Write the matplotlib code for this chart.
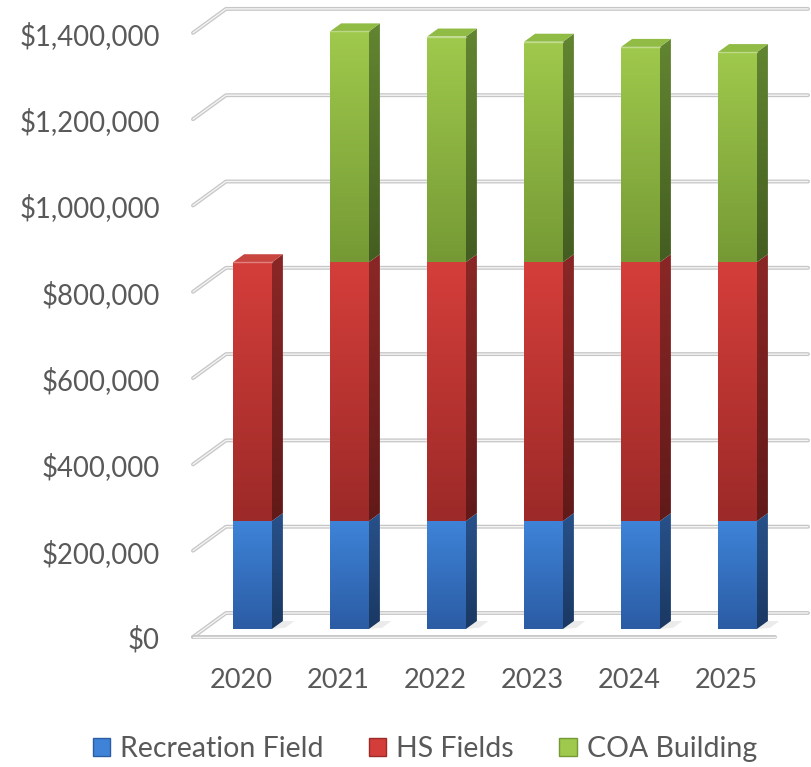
import numpy as np
import matplotlib
matplotlib.use("Agg")
import matplotlib.pyplot as plt
from matplotlib.patches import Polygon, Patch
from matplotlib.colors import LinearSegmentedColormap

years = ["2020", "2021", "2022", "2023", "2024", "2025"]
recreation = [250000, 250000, 250000, 250000, 250000, 250000]
hs_fields = [600000, 600000, 600000, 600000, 600000, 600000]
coa_building = [0, 535000, 523000, 511000, 499000, 487000]
series_names = ["Recreation Field", "HS Fields", "COA Building"]
y_ticks = np.arange(0, 1400001, 200000)

# face colours per series: front (top->bottom), side (top->bottom), top
front_top = ["#3e83d8", "#d43e3a", "#9fc94c"]
front_bot = ["#2b5ca4", "#9c2a28", "#759a35"]
side_top = ["#28518a", "#8a2726", "#628531"]
side_bot = ["#1a3862", "#611a19", "#445d21"]
top_face = ["#5b96de", "#c94540", "#90bb44"]
text_color = "#595959"

plt.rcParams["font.family"] = ["Lato", "DejaVu Sans"]

# pixel scale of the layout
px_cat = 97.0
px_dollar = 86.3 / 200000
DX = 33 / px_cat            # full floor depth, horizontal (categories)
DY = 24 / px_dollar         # full floor depth, vertical (dollars)
bar_w = 0.40


def P(x, v, d):
    # oblique projection: d=0 is the bar front plane, d>0 goes back
    return (x + d * DX, v + d * DY)


def gradient_fill(ax, verts, c_top, c_bot, z):
    poly = Polygon(verts, closed=True, facecolor="none", edgecolor="none", zorder=z)
    ax.add_patch(poly)
    xs = [p[0] for p in verts]
    ys = [p[1] for p in verts]
    cmap = LinearSegmentedColormap.from_list("g", [c_bot, c_top])
    im = ax.imshow(np.linspace(0, 1, 64).reshape(-1, 1), cmap=cmap,
                   extent=(min(xs), max(xs), min(ys), max(ys)), origin="lower",
                   aspect="auto", interpolation="bilinear", zorder=z)
    im.set_clip_path(poly)


fig = plt.figure(figsize=(8.11, 7.67), dpi=100)
ax = fig.add_axes([0, 0, 1, 1])
ax.axis("off")

n = len(years)
x0, x1 = -0.5, n - 0.5

# walls: left diagonal + back gridline for each tick
for v in y_ticks:
    pts = [P(x0, v, -1 / 3), P(x0, v, 2 / 3), P(x1, v, 2 / 3)]
    xs, ys = zip(*pts)
    ax.plot(xs, ys, color="#c6c6c6", lw=2.8, solid_capstyle="round", zorder=1)
    ax.plot(xs, ys, color="#f4f4f4", lw=1.0, solid_capstyle="round", zorder=1)
# floor front edge
xs, ys = zip(P(x0, 0, -1 / 3), P(x1, 0, -1 / 3))
ax.plot(xs, ys, color="#c6c6c6", lw=2.8, solid_capstyle="round", zorder=1)
ax.plot(xs, ys, color="#f4f4f4", lw=1.0, solid_capstyle="round", zorder=1)

stack = np.array([recreation, hs_fields, coa_building], dtype=float)
for i in range(n):
    z = 3 + i * 10
    # soft shadow on the floor
    sh = Polygon([P(i + bar_w / 2, 0, 0), P(i + bar_w / 2 + 0.12, 0, 0.05),
                  P(i + bar_w / 2 + 0.12, 0, 0.33), P(i + bar_w / 2, 0, 1 / 3)],
                 closed=True, facecolor="#000000", alpha=0.08, edgecolor="none", zorder=z - 1)
    ax.add_patch(sh)
    bottom = 0.0
    last = max(k for k in range(3) if stack[k, i] > 0)
    for k in range(3):
        val = stack[k, i]
        if val <= 0:
            continue
        top = bottom + val
        l, r = i - bar_w / 2, i + bar_w / 2
        gradient_fill(ax, [(l, bottom), (r, bottom), (r, top), (l, top)],
                      front_top[k], front_bot[k], z)
        gradient_fill(ax, [P(r, bottom, 0), P(r, bottom, 1 / 3), P(r, top, 1 / 3), P(r, top, 0)],
                      side_top[k], side_bot[k], z)
        if k == last:
            ax.add_patch(Polygon([P(l, top, 0), P(r, top, 0), P(r, top, 1 / 3), P(l, top, 1 / 3)],
                                 closed=True, facecolor=top_face[k], edgecolor="none", zorder=z + 1))
            ax.plot([l, r], [top, top], color="white", alpha=0.35, lw=1.0, zorder=z + 2)
        bottom = top

# axis labels
for v in y_ticks:
    xl, yl = P(x0 - 0.34, v - 3 / px_dollar, -1 / 3)
    ax.text(xl, yl, f"${v:,.0f}", ha="right", va="center", fontsize=19.8, color=text_color)
for i, yr in enumerate(years):
    xl, yl = P(i, -43 / px_dollar, -1 / 3)
    ax.text(xl, yl, yr, ha="center", va="center", fontsize=19.5, color=text_color)

handles = [Patch(facecolor=front_top[k], edgecolor=front_bot[k], label=series_names[k]) for k in range(3)]
fig.legend(handles=handles, loc="center", bbox_to_anchor=(0.524, 0.023), ncol=3, frameon=False,
           fontsize=20.5, handlelength=0.6, handleheight=0.6, handletextpad=0.35,
           columnspacing=1.6, labelcolor=text_color)

ax.set_xlim(-252.5 / px_cat, (811 - 252.5) / px_cat)
ax.set_ylim(-138 / px_dollar, 629 / px_dollar)

fig.savefig("out.png", dpi=100)
